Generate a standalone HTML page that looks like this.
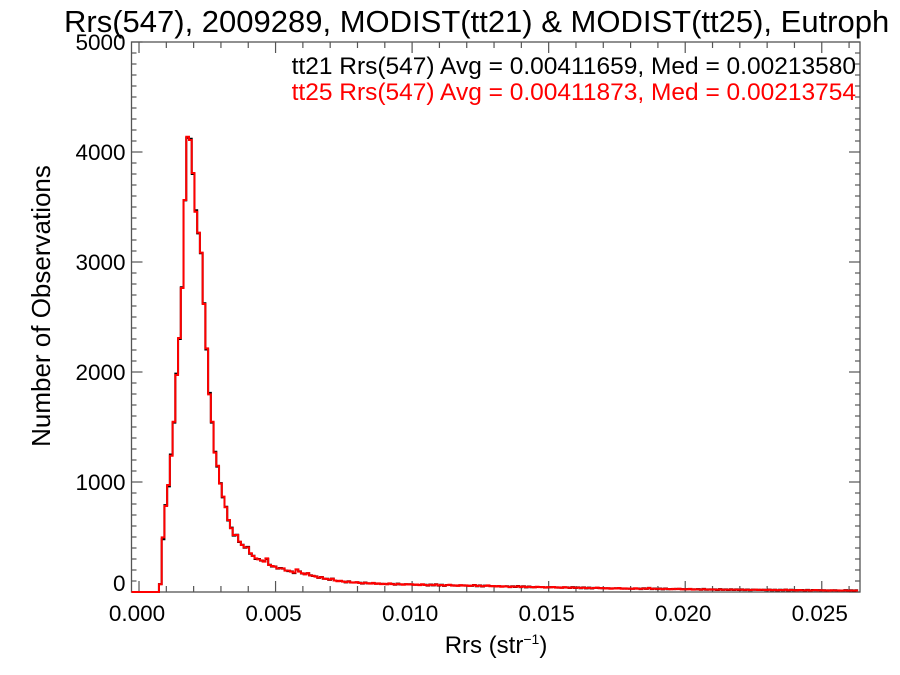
<!DOCTYPE html>
<html><head><meta charset="utf-8"><style>
html,body{margin:0;padding:0;background:#fff;}
svg{display:block;font-family:"Liberation Sans",Arial,sans-serif;}
</style></head><body>
<svg id="chart" width="900" height="675" viewBox="0 0 900 675" xmlns="http://www.w3.org/2000/svg">
<rect width="900" height="675" fill="#fff"/>
<text x="64" y="32" font-size="31" fill="#000">Rrs(547), 2009289, MODIST(tt21) &amp; MODIST(tt25), Eutroph</text>
<g id="axes"></g>
<g id="series"></g>
<text x="856" y="74" font-size="24.5" text-anchor="end" fill="#000">tt21 Rrs(547) Avg = 0.00411659, Med = 0.00213580</text>
<text x="856" y="100" font-size="24.5" text-anchor="end" fill="#ff0000">tt25 Rrs(547) Avg = 0.00411873, Med = 0.00213754</text>
<text x="0" y="0" font-size="26" text-anchor="middle" transform="translate(50,306) rotate(-90)">Number of Observations</text>
<text x="496" y="653" font-size="24" text-anchor="middle">Rrs (str<tspan font-size="14" dy="-9">−1</tspan><tspan dy="9">)</tspan></text>
</svg>
<script>
const binStart = 0.00073;
const binWidth = 0.0001;
const tt25Counts = [70,497,782,973,1239,1548,1973,2309,2764,3564,4139,4109,3809,3457,3267,3085,2618,2215,1797,1548,1267,1148,985,867,770,655,579,518,518,458,427,406,406,352,327,306,297,288,276,306,245,236,230,215,215,215,194,194,185,176,206,185,170,
160,172,150,148,140,130,135,122,118,
112,120,105,98,102,94,90,96,88,85,
90,82,78,84,80,76,83,74,78,72,
75,70,78,72,68,74,70,66,72,68,
70,65,68,62,70,64,60,66,62,68,
60,64,58,62,66,58,60,56,62,58,
60,55,58,62,54,58,52,56,60,52,
55,50,54,48,52,50,46,50,48,52,
46,50,44,48,45,42,48,44,46,40,
44,42,46,40,42,38,44,40,38,42,
38,40,36,40,35,38,34,36,40,34,
36,32,35,30,34,32,36,30,33,30,
32,28,34,30,28,32,30,36,28,30,
28,30,26,30,27,25,28,26,30,24,
26,24,28,22,25,24,22,26,23,22,
24,22,20,24,21,22,20,23,20,22,
20,22,19,21,18,20,22,18,20,19,
18,20,17,19,16,18,17,20,16,18,
17,15,18,16,15,17,14,16,18,15,
16,14,15,13,16,14,15,12,14,15,
13,14,12,14];
const tt21Counts = [72,480,790,960,1250,1540,1985,2300,2770,3560,4130,4120,3800,3470,3260,3080,2625,2205,1810,1540,1275,1140,990,860,775,650,585,512,520,455,430,402,410,348,330,300,300,285,280,300,248,232,232,212,218,212,196,190,188,172,204,188,168,
162,170,152,146,142,128,136,120,120,
110,122,104,100,100,96,88,98,86,86,
88,84,76,86,78,78,81,76,76,74,
73,72,76,74,66,76,68,68,70,70,
68,67,66,64,68,66,58,68,60,70,
58,66,56,64,64,60,58,58,60,60,
58,57,56,64,52,60,50,58,58,54,
53,52,52,50,50,52,44,52,46,54,
44,52,42,50,43,44,46,46,44,42,
42,44,44,42,40,40,42,42,36,44,
36,42,34,42,33,40,32,38,38,36,
34,34,33,32,32,34,34,32,31,32,
30,30,32,32,26,34,28,38,26,32,
26,32,24,32,25,27,26,28,28,26,
24,26,26,24,23,26,20,28,21,24,
22,24,18,26,19,24,18,25,18,24,
18,24,17,23,16,22,20,20,18,21,
16,22,15,21,14,20,15,22,14,20,
15,17,16,18,13,19,12,18,16,17,
14,16,13,15,14,16,13,14,12,17,
11,16,10,16];
const xTickValues = [0,0.005,0.010,0.015,0.020,0.025];
const xTickLabels = ["0.000","0.005","0.010","0.015","0.020","0.025"];
const yTickValues = [0,1000,2000,3000,4000,5000];
const yTickLabels = ["0","1000","2000","3000","4000","5000"];

const L=131.5,R=860,T=42,B=592;
const xMin=-0.000275,xMax=0.0264,yMin=0,yMax=5000;
const xs=v=>L+(v-xMin)/(xMax-xMin)*(R-L);
const ys=v=>B-(v-yMin)/(yMax-yMin)*(B-T);
const NS="http://www.w3.org/2000/svg";
const axes=document.getElementById('axes');
const series=document.getElementById('series');
function mk(tag,attrs,parent){const e=document.createElementNS(NS,tag);for(const k in attrs)e.setAttribute(k,attrs[k]);parent.appendChild(e);return e;}

const frame=mk('rect',{x:L,y:T,width:R-L,height:B-T,fill:'none',stroke:'#555','stroke-width':1.3},axes);



for(let v=0;v<=5000;v+=100){
  const y=ys(v);const major=v%1000===0;const len=major?11:5;
  const t1=mk('line',{x1:L,x2:L+len,y1:y,y2:y,stroke:'#555','stroke-width':1.2},axes);
  
  
  const t2=mk('line',{x1:R,x2:R-len,y1:y,y2:y,stroke:'#555','stroke-width':1.2},axes);
  
  
}
yTickValues.forEach((v,i)=>{
  let y=ys(v)+8; if(v===0) y-=9;
  const t=mk('text',{x:L-6,y:y,'font-size':22.5,'text-anchor':'end'},axes);
  t.textContent=yTickLabels[i];
  
  
});
for(let k=0;k<=26;k++){
  const v=k*0.001;const x=xs(v);const major=k%5===0;const len=major?11:6;
  const t1=mk('line',{x1:x,x2:x,y1:B,y2:B-len,stroke:'#555','stroke-width':1.2},axes);
  
  
  const t2=mk('line',{x1:x,x2:x,y1:T,y2:T+len,stroke:'#555','stroke-width':1.2},axes);
  
  
}
xTickValues.forEach((v,i)=>{
  const t=mk('text',{x:xs(v)-2,y:621,'font-size':22.5,'text-anchor':'middle'},axes);
  t.textContent=xTickLabels[i];
  
  
});

function stepPath(counts){
  let d='M'+L+','+ys(0)+' L'+xs(binStart)+','+ys(0);
  counts.forEach((c,i)=>{
    const x0=xs(binStart+i*binWidth),x1=Math.min(R,xs(binStart+(i+1)*binWidth));
    d+=' L'+x0.toFixed(2)+','+ys(c).toFixed(2)+' L'+x1.toFixed(2)+','+ys(c).toFixed(2);
  });
  return d;
}
const p21=mk('path',{d:stepPath(tt21Counts),fill:'none',stroke:'#000','stroke-width':2},series);


const p25=mk('path',{d:stepPath(tt25Counts),fill:'none',stroke:'#ff0000','stroke-width':2},series);


</script>
</body></html>
